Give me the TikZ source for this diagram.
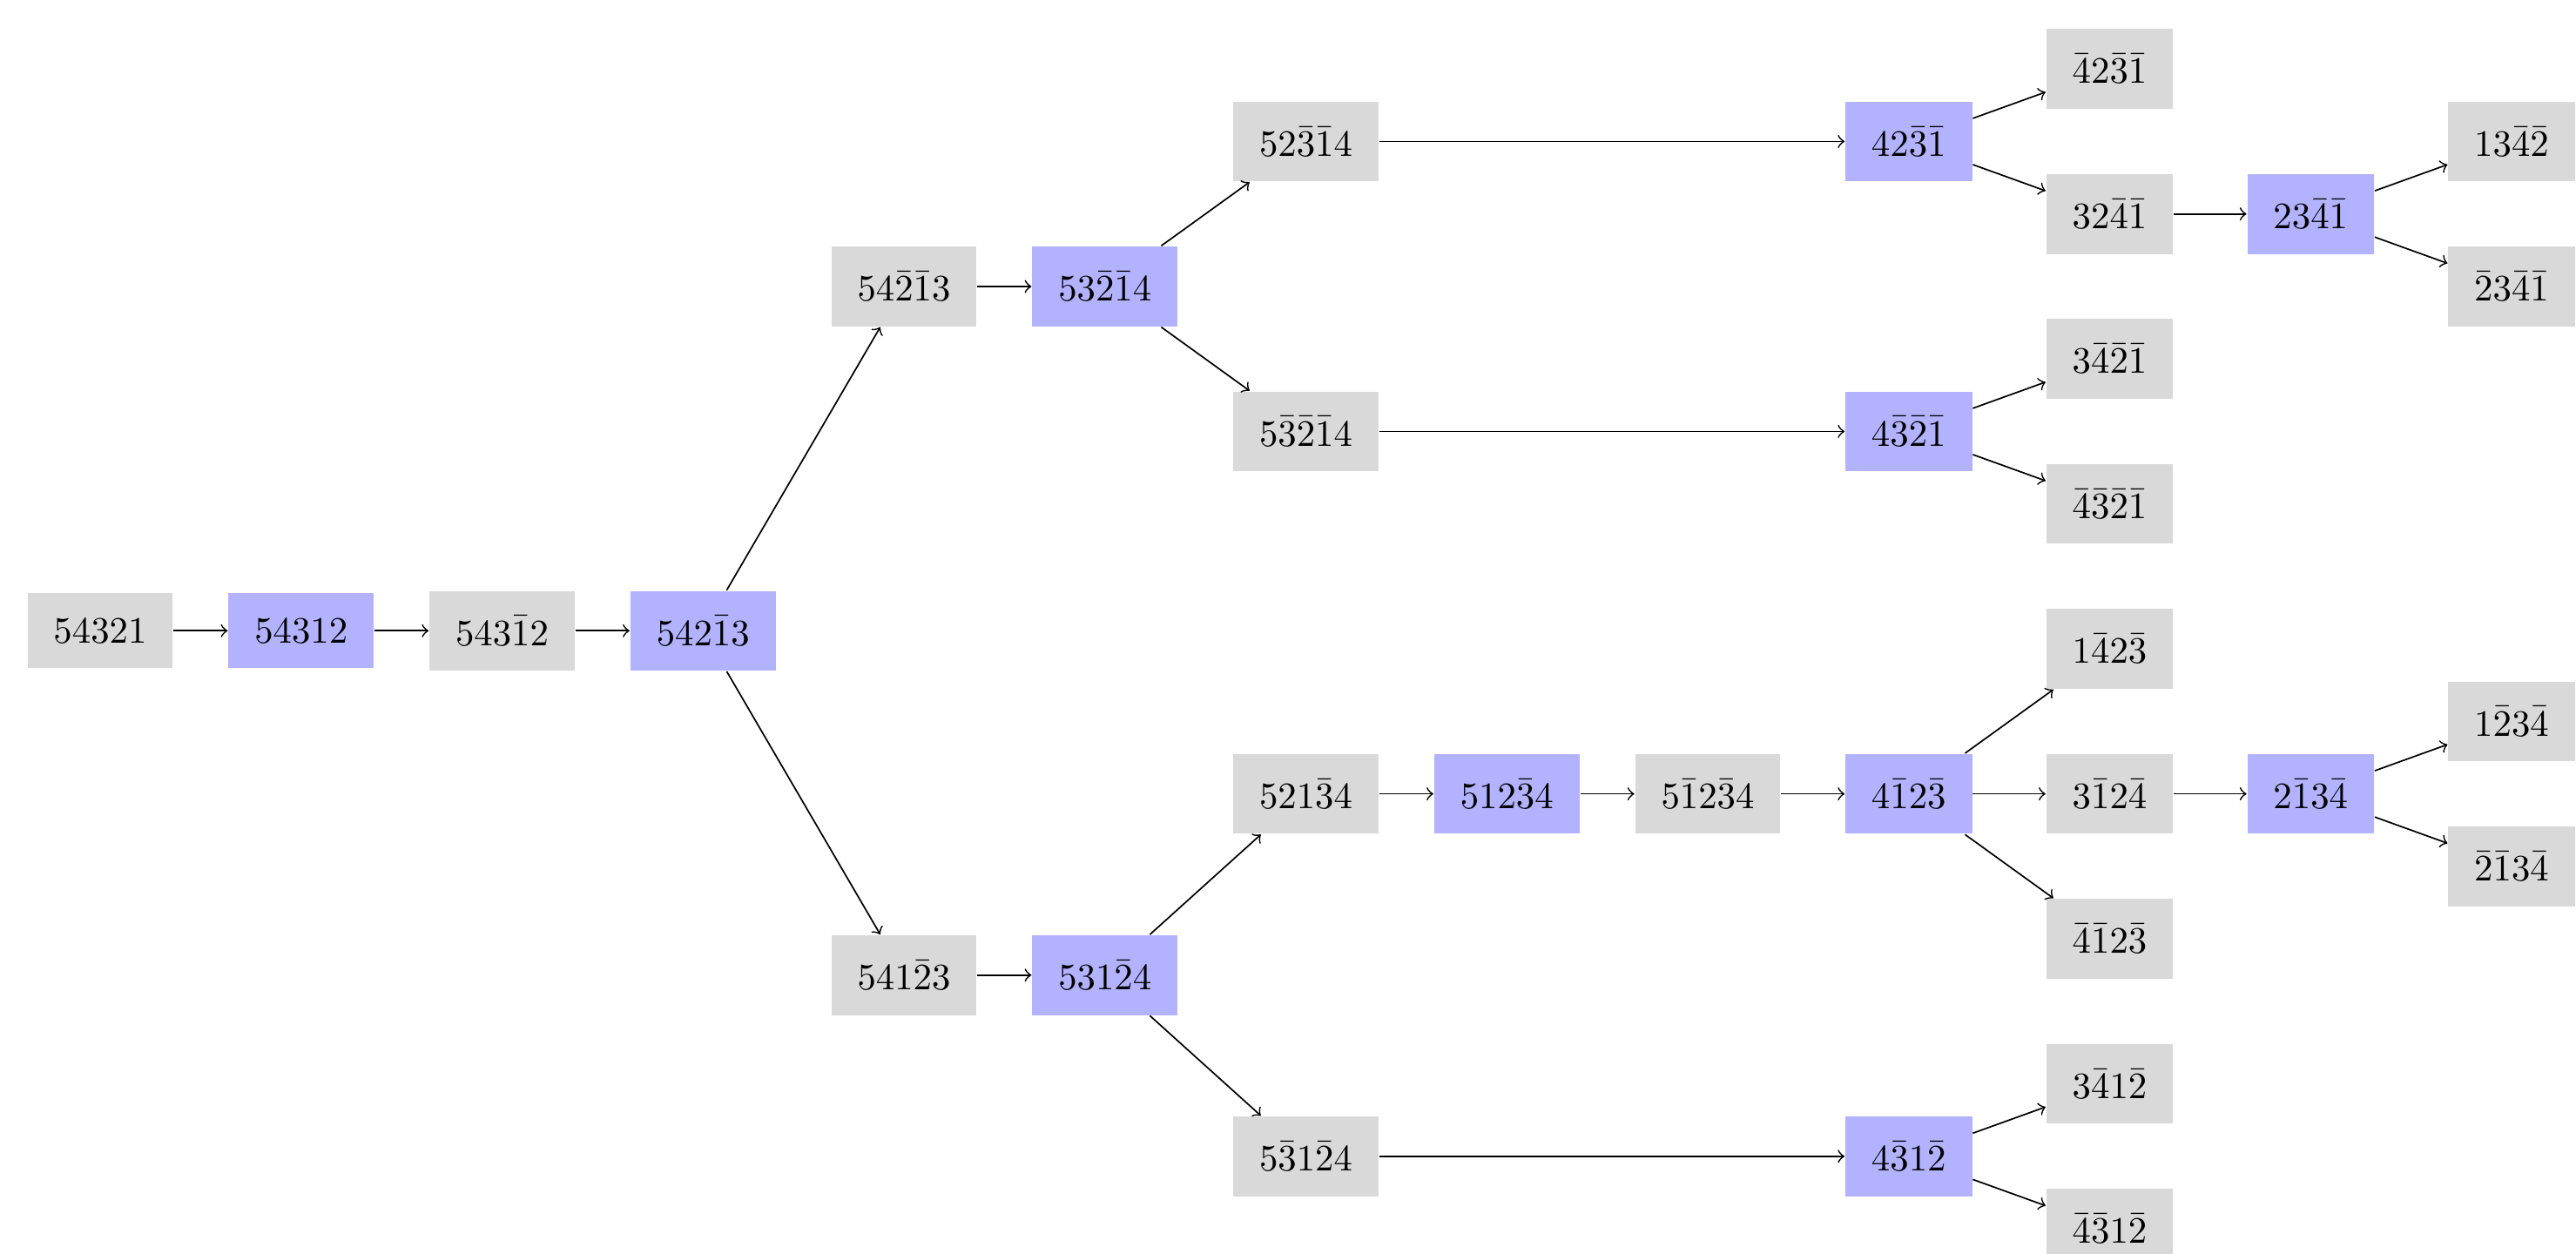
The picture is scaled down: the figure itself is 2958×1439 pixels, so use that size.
\documentclass[tikz,border=0pt]{standalone}
\begin{document}
\begin{tikzpicture}[x=0.23364pt,y=-0.23364pt,
  box/.style={rectangle, inner xsep=7pt, inner ysep=6.8pt, fill=gray!30},
  hl/.style={rectangle, inner xsep=7pt, inner ysep=6.8pt, fill=blue!30},
  conn/.style={->, line width=0.4pt}]
\clip (0,0) rectangle (2958,1439);
\useasboundingbox (0,0) rectangle (2958,1439);
% root chain
\node[box] (a0) at (115,724.31) {$54321$};
\node[hl]  (a1) at (345.75,724.31) {$54312$};
\node[box] (a2) at (576.5,724.31) {$543\bar{1}2$};
\node[hl]  (a3) at (807.25,724.31) {$542\bar{1}3$};
% upper subtree
\node[box] (b4) at (1038,328.92) {$54\bar{2}\bar{1}3$};
\node[hl]  (b5) at (1268.75,328.92) {$53\bar{2}\bar{1}4$};
\node[box] (c6) at (1499.5,162.44) {$52\bar{3}\bar{1}4$};
\node[hl]  (c9) at (2191.75,162.44) {$42\bar{3}\bar{1}$};
\node[box] (c10a) at (2422.5,79.2) {$\bar{4}2\bar{3}\bar{1}$};
\node[box] (c10b) at (2422.5,245.68) {$32\bar{4}\bar{1}$};
\node[hl]  (c11) at (2653.25,245.68) {$23\bar{4}\bar{1}$};
\node[box] (c12a) at (2884,162.44) {$13\bar{4}\bar{2}$};
\node[box] (c12b) at (2884,328.92) {$\bar{2}3\bar{4}\bar{1}$};
\node[box] (d6) at (1499.5,495.4) {$5\bar{3}\bar{2}\bar{1}4$};
\node[hl]  (d9) at (2191.75,495.4) {$4\bar{3}\bar{2}\bar{1}$};
\node[box] (d10a) at (2422.5,412.16) {$3\bar{4}\bar{2}\bar{1}$};
\node[box] (d10b) at (2422.5,578.64) {$\bar{4}\bar{3}\bar{2}\bar{1}$};
% lower subtree
\node[box] (e4) at (1038,1119.7) {$541\bar{2}3$};
\node[hl]  (e5) at (1268.75,1119.7) {$531\bar{2}4$};
\node[box] (f6) at (1499.5,911.6) {$521\bar{3}4$};
\node[hl]  (f7) at (1730.25,911.6) {$512\bar{3}4$};
\node[box] (f8) at (1961,911.6) {$5\bar{1}2\bar{3}4$};
\node[hl]  (f9) at (2191.75,911.6) {$4\bar{1}2\bar{3}$};
\node[box] (f10a) at (2422.5,745.12) {$1\bar{4}2\bar{3}$};
\node[box] (f10b) at (2422.5,911.6) {$3\bar{1}2\bar{4}$};
\node[box] (f10c) at (2422.5,1078.08) {$\bar{4}\bar{1}2\bar{3}$};
\node[hl]  (f11) at (2653.25,911.6) {$2\bar{1}3\bar{4}$};
\node[box] (f12a) at (2884,828.36) {$1\bar{2}3\bar{4}$};
\node[box] (f12b) at (2884,994.84) {$\bar{2}\bar{1}3\bar{4}$};
\node[box] (g6) at (1499.5,1327.8) {$5\bar{3}1\bar{2}4$};
\node[hl]  (g9) at (2191.75,1327.8) {$4\bar{3}1\bar{2}$};
\node[box] (g10a) at (2422.5,1244.56) {$3\bar{4}1\bar{2}$};
\node[box] (g10b) at (2422.5,1411.04) {$\bar{4}\bar{3}1\bar{2}$};
% connectors
\draw[conn] (a0) -- (a1);
\draw[conn] (a1) -- (a2);
\draw[conn] (a2) -- (a3);
\draw[conn] (a3) -- (b4);
\draw[conn] (a3) -- (e4);
\draw[conn] (b4) -- (b5);
\draw[conn] (b5) -- (c6);
\draw[conn] (b5) -- (d6);
\draw[conn] (c6) -- (c9);
\draw[conn] (c9) -- (c10a);
\draw[conn] (c9) -- (c10b);
\draw[conn] (c10b) -- (c11);
\draw[conn] (c11) -- (c12a);
\draw[conn] (c11) -- (c12b);
\draw[conn] (d6) -- (d9);
\draw[conn] (d9) -- (d10a);
\draw[conn] (d9) -- (d10b);
\draw[conn] (e4) -- (e5);
\draw[conn] (e5) -- (f6);
\draw[conn] (e5) -- (g6);
\draw[conn] (f6) -- (f7);
\draw[conn] (f7) -- (f8);
\draw[conn] (f8) -- (f9);
\draw[conn] (f9) -- (f10a);
\draw[conn] (f9) -- (f10b);
\draw[conn] (f9) -- (f10c);
\draw[conn] (f10b) -- (f11);
\draw[conn] (f11) -- (f12a);
\draw[conn] (f11) -- (f12b);
\draw[conn] (g6) -- (g9);
\draw[conn] (g9) -- (g10a);
\draw[conn] (g9) -- (g10b);
\end{tikzpicture}
\end{document}
